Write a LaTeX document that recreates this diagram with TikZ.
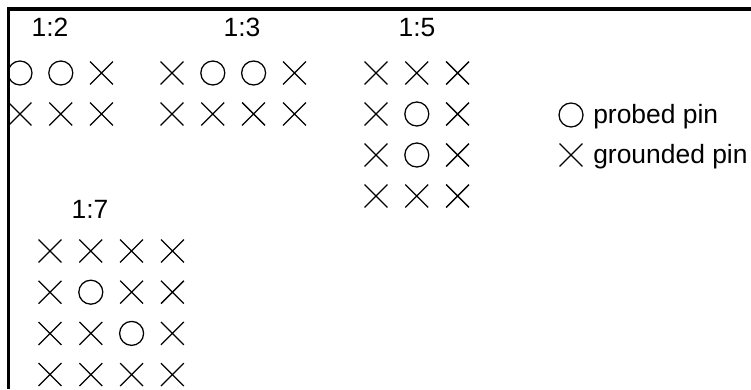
\documentclass[tikz,border=0pt]{standalone}
\usepackage{fontspec}
\setmainfont{Liberation Sans}
\usepackage{tikz}
\usetikzlibrary{shapes}

\tikzset{
  probed/.style={draw,circle,line width=0.9pt,minimum size=0.6cm,inner sep=0pt},
  grounded/.style={draw,cross out,line width=0.9pt,minimum size=0.54cm,inner sep=0pt},
  ratio/.style={anchor=base,inner sep=0pt,font=\fontsize{18.8}{22}\selectfont},
  legend/.style={anchor=base west,inner sep=0pt,font=\fontsize{18.8}{22}\selectfont},
  frame/.style={line width=2.2pt,line join=miter}
}

\begin{document}
\begin{tikzpicture}
  \useasboundingbox (0,0) rectangle (18.775,9.725);

  % cadre
\coordinate (c0) at (0.22,0);
\coordinate (c1) at (0.22,9.5);
\coordinate (c2) at (18.775,9.5);
\draw[frame] (c0) -- (c1) -- (c2);

  % 1:2
\node[ratio] (r12) at (1.25,8.8) {1:2};
\foreach \row [count=\r] in {{probed,probed,grounded},{grounded,grounded,grounded}}
  \foreach \m [count=\c] in \row
    \node[\m] (a-\r-\c) at ({0.5+1.02*(\c-1)},{7.9-1.025*(\r-1)}) {};

  % 1:3
\node[ratio] (r13) at (6.05,8.8) {1:3};
\foreach \row [count=\r] in {{grounded,probed,probed,grounded},{grounded,grounded,grounded,grounded}}
  \foreach \m [count=\c] in \row
    \node[\m] (b-\r-\c) at ({4.3+1.02*(\c-1)},{7.9-1.025*(\r-1)}) {};

  % 1:5
\node[ratio] (r15) at (10.425,8.8) {1:5};
\foreach \row [count=\r] in {{grounded,grounded,grounded},{grounded,probed,grounded},
                              {grounded,probed,grounded},{grounded,grounded,grounded}}
  \foreach \m [count=\c] in \row
    \node[\m] (d-\r-\c) at ({9.4+1.02*(\c-1)},{7.9-1.025*(\r-1)}) {};

  % 1:7
\node[ratio] (r17) at (2.25,4.275) {1:7};
\foreach \row [count=\r] in {{grounded,grounded,grounded,grounded},{grounded,probed,grounded,grounded},
                              {grounded,grounded,probed,grounded},{grounded,grounded,grounded,grounded}}
  \foreach \m [count=\c] in \row
    \node[\m] (e-\r-\c) at ({1.25+1.02*(\c-1)},{3.45-1.03*(\r-1)}) {};

  % légende
\node[probed] (lp) at (14.275,6.85) {};
\node[legend] (lpt) at (14.825,6.625) {probed pin};
\node[grounded] (lg) at (14.275,5.85) {};
\node[legend] (lgt) at (14.825,5.625) {grounded pin};
\end{tikzpicture}
\end{document}
